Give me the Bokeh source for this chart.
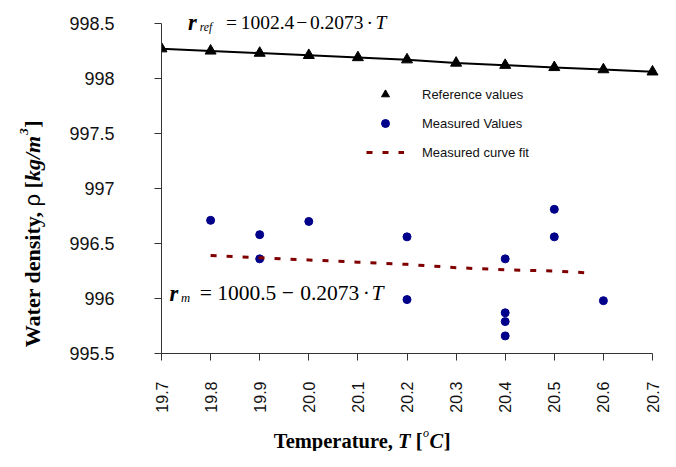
import math
import subprocess
from bokeh.plotting import figure
from bokeh.layouts import row, column
from bokeh.models import Label, Legend, LegendItem, FixedTicker, Range1d
from bokeh.embed import file_html
from bokeh.resources import INLINE

# ---- data ----
ref_T = [19.7, 19.8, 19.9, 20.0, 20.1, 20.2, 20.3, 20.4, 20.5, 20.6, 20.7]
ref_rho = [998.27, 998.25, 998.23, 998.21, 998.19, 998.17, 998.14, 998.12, 998.10, 998.08, 998.06]

meas_T = [19.8, 19.9, 19.9, 20.0, 20.2, 20.2, 20.4, 20.4, 20.4, 20.4, 20.5, 20.5, 20.6]
meas_rho = [996.71, 996.58, 996.36, 996.70, 996.56, 995.99, 996.36, 995.87, 995.79, 995.66, 996.81, 996.56, 995.98]

fit_T = [19.8, 19.9, 20.0, 20.1, 20.2, 20.3, 20.4, 20.5, 20.58]
fit_rho = [996.39, 996.37, 996.35, 996.33, 996.31, 996.28, 996.26, 996.25, 996.23]

x_ticks = [19.7, 19.8, 19.9, 20.0, 20.1, 20.2, 20.3, 20.4, 20.5, 20.6, 20.7]
x_tick_labels = ["19.7", "19.8", "19.9", "20.0", "20.1", "20.2", "20.3", "20.4", "20.5", "20.6", "20.7"]
y_ticks = [995.5, 996.0, 996.5, 997.0, 997.5, 998.0, 998.5]
y_tick_labels = ["995.5", "996", "996.5", "997", "997.5", "998", "998.5"]

legend_labels = ["Reference values", "Measured Values", "Measured curve fit"]

# ---- layout geometry (page pixels) ----
TOTAL_W, TOTAL_H = 660, 451
SX, SY = TOTAL_W / 676, TOTAL_H / 467     # reference pixels -> page pixels
YT_W = 55                                  # strip holding the y title
P_W, P_H = TOTAL_W - YT_W, 415             # main figure
FL, FR, FT, FB = 161, 652, 23, 355         # frame: x=19.7 .. 20.7, y=998.5 .. 995.5 (page px)
x0, x1 = x_ticks[0], x_ticks[-1]
y0, y1 = y_ticks[0], y_ticks[-1]
x_end = x1 + (TOTAL_W - FR) * (x1 - x0) / (FR - FL)
y_end = y1 + FT * (y1 - y0) / (FB - FT)

p = figure(width=P_W, height=P_H, output_backend="svg", toolbar_location=None,
           x_range=Range1d(x0, x_end), y_range=Range1d(y0, y_end),
           min_border_left=FL - YT_W, min_border_right=0, min_border_top=0,
           min_border_bottom=P_H - FB)
p.outline_line_color = None
p.xgrid.visible = False
p.ygrid.visible = False

for ax in (p.xaxis[0], p.yaxis[0]):
    ax.axis_line_color = "#333333"
    ax.axis_line_width = 1
    ax.major_tick_line_color = "#333333"
    ax.major_tick_out = 7
    ax.major_tick_in = 0
    ax.minor_tick_line_color = None
    ax.major_label_text_font = "Liberation Sans"
    ax.major_label_text_color = "#111111"

p.xaxis.ticker = FixedTicker(ticks=x_ticks)
p.xaxis.bounds = (x0, x1)
p.xaxis.major_label_overrides = dict(zip(x_ticks, x_tick_labels))
p.xaxis.major_label_orientation = math.pi / 2
p.xaxis.major_label_standoff = 21
p.xaxis.major_label_text_font_size = "16px"

p.yaxis.ticker = FixedTicker(ticks=y_ticks)
p.yaxis.bounds = (y0, y1)
p.yaxis.major_label_overrides = dict(zip(y_ticks, y_tick_labels))
p.yaxis.major_label_standoff = 40
p.yaxis.major_label_text_font_size = "18px"

# ---- glyphs ----
p.line(ref_T, ref_rho, line_color="black", line_width=2)
r_ref = p.scatter(ref_T, ref_rho, marker="triangle", size=11, fill_color="black", line_color="black")
r_meas = p.scatter(meas_T, meas_rho, marker="circle", size=8, fill_color="#00008B", line_color="#00008B")
r_fit = p.line(fit_T, fit_rho, line_color="#800000", line_width=3, line_dash="6 10")

legend = Legend(items=[LegendItem(label=legend_labels[0], renderers=[r_ref]),
                       LegendItem(label=legend_labels[1], renderers=[r_meas]),
                       LegendItem(label=legend_labels[2], renderers=[r_fit])],
                location=(205, 191), border_line_color=None, background_fill_alpha=0,
                padding=0, margin=0, spacing=9, glyph_width=38, glyph_height=20,
                label_height=20, label_standoff=18,
                label_text_font="Liberation Sans", label_text_font_size="13px",
                label_text_color="#111111")
p.add_layout(legend)

# ---- title strips ----
yfig = figure(width=YT_W, height=TOTAL_H, output_backend="svg", toolbar_location=None,
              x_axis_location=None, y_axis_location=None, min_border=0,
              x_range=Range1d(0, 1), y_range=Range1d(0, 1))
xfig = figure(width=P_W, height=TOTAL_H - P_H, output_backend="svg", toolbar_location=None,
              x_axis_location=None, y_axis_location=None, min_border=0,
              min_border_left=FL - YT_W, min_border_right=0,
              x_range=Range1d(0, 1), y_range=Range1d(0, 1))
for f in (yfig, xfig):
    f.outline_line_color = None
    f.xgrid.visible = False
    f.ygrid.visible = False

SERIF, SANS = "Liberation Serif", "Liberation Sans"
_font_cache = {}


def text_width(s, family, style, size):
    """Advance width of a text run, measured with the installed font when possible."""
    key = (family, style)
    if key not in _font_cache:
        st = {"normal": "Regular", "bold": "Bold", "italic": "Italic",
              "bold italic": "Bold Italic"}[style]
        path = None
        try:
            path = subprocess.run(["fc-match", "-f", "%{file}", f"{family}:style={st}"],
                                  capture_output=True, text=True, timeout=10).stdout.strip() or None
        except Exception:
            path = None
        _font_cache[key] = path
    path = _font_cache[key]
    if path:
        try:
            from PIL import ImageFont
            n = max(1, int(round(size * 4)))
            return ImageFont.truetype(path, n).getlength(s) * size / n
        except Exception:
            pass
    return 0.5 * size * len(s)


def put(fig, left, bottom, s, x, y, size, style="normal", font=SERIF, angle=0.0):
    """x, y: page pixels (from the top-left); left/bottom: the figure frame's page position."""
    fig.add_layout(Label(x=x - left, y=bottom - y, x_units="screen", y_units="screen",
                         text=s, text_font=font, text_font_size=f"{size:.1f}px",
                         text_font_style=style, text_align="left",
                         text_baseline="alphabetic", angle=angle, text_color="black"))


def run(fig, left, bottom, x, y, pieces, vertical=False):
    """Lay out styled runs one after another. pieces: (text, size, style, font, gap_before, raise)."""
    pos = x if not vertical else y
    for s, size, style, font, gap, rise in pieces:
        pos += gap if not vertical else -gap
        if vertical:
            put(fig, left, bottom, s, x - rise, pos, size, style, font, angle=math.pi / 2)
            pos -= text_width(s, font, style, size)
        else:
            put(fig, left, bottom, s, pos, y - rise, size, style, font)
            pos += text_width(s, font, style, size)


def ptxt(s, X, Y, size, style="normal", font=SERIF):
    """Place a run at a reference-pixel position inside the main frame."""
    put(p, FL, FB, s, X * SX, Y * SY, size * SX, style, font)


# top equation
ptxt("r", 192, 25, 23, "bold italic")
ptxt("ref", 204, 30, 12, "italic")
ptxt("=", 231, 25, 20)
ptxt("1002.4", 246, 25, 20)
ptxt("\u2212", 303, 25, 20)
ptxt("0.2073", 317, 25, 20)
ptxt("\u00b7", 375, 25, 20)
ptxt("T", 384, 25, 20, "italic")

# bottom equation
ptxt("r", 173, 305, 23, "bold italic")
ptxt("m", 185, 310, 13, "italic")
ptxt("=", 204, 305, 22)
ptxt("1000.5", 222, 305, 22)
ptxt("\u2212", 288, 305, 22)
ptxt("0.2073", 307, 305, 22)
ptxt("\u00b7", 371, 305, 22)
ptxt("T", 380, 305, 22, "italic")

# x axis title:  Temperature, T [oC]
XS = 20.5
sp_x = text_width(" ", SERIF, "bold", XS)
run(xfig, FL, TOTAL_H, 280 * SX, 440, [
    ("Temperature,", XS, "bold", SERIF, 0, 0),
    ("T", XS, "bold italic", SERIF, sp_x, 0),
    ("[", XS, "bold", SERIF, sp_x, 0),
    ("o", 12, "italic", SERIF, 0.5, 8),
    ("C", XS, "bold italic", SERIF, 0.5, 0),
    ("]", XS, "bold", SERIF, 0.5, 0),
])

# y axis title (rotated, reading upward):  Water density, rho [kg/m3]
YS = 22
sp_y = text_width(" ", SERIF, "bold", YS)
run(yfig, 0, TOTAL_H, 33 * SX, 359 * SY, [
    ("Water density,", YS, "bold", SERIF, 0, 0),
    ("\u03c1", YS, "normal", SANS, sp_y, 0),
    ("[", YS, "bold", SERIF, sp_y, 0),
    ("kg/m", YS, "bold italic", SERIF, 0, 0),
    ("3", 13, "bold italic", SERIF, 1, 9),
    ("]", YS, "bold", SERIF, 0.5, 0),
], vertical=True)

layout = row(yfig, column(p, xfig))
open("out.html", "w").write(file_html(layout, INLINE))
